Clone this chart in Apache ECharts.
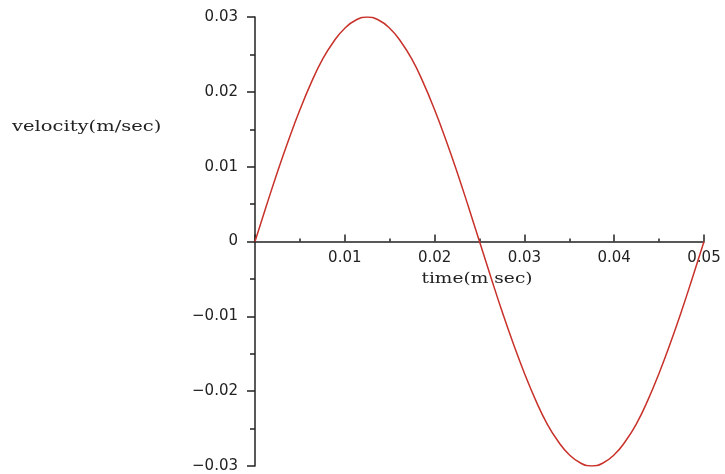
<!DOCTYPE html>
<html>
<head>
<meta charset="utf-8">
<script src="https://cdn.jsdelivr.net/npm/echarts@6/dist/echarts.min.js"></script>
<style>html,body{margin:0;padding:0;background:#fff;}#c{width:725px;height:474px;}</style>
</head>
<body>
<div id="c"></div>
<script>
// time (sec) samples
var timeValues = [0,0.00125,0.0025,0.00375,0.005,0.00625,0.0075,0.00875,0.01,0.01125,0.0125,0.01375,0.015,0.01625,0.0175,0.01875,0.02,0.02125,0.0225,0.02375,0.025,0.02625,0.0275,0.02875,0.03,0.03125,0.0325,0.03375,0.035,0.03625,0.0375,0.03875,0.04,0.04125,0.0425,0.04375,0.045,0.04625,0.0475,0.04875,0.05];
// velocity (m/sec)
var velocityValues = [0,0.0047,0.0093,0.0136,0.0176,0.0212,0.0243,0.0267,0.0285,0.0296,0.03,0.0296,0.0285,0.0267,0.0243,0.0212,0.0176,0.0136,0.0093,0.0047,0,-0.0047,-0.0093,-0.0136,-0.0176,-0.0212,-0.0243,-0.0267,-0.0285,-0.0296,-0.03,-0.0296,-0.0285,-0.0267,-0.0243,-0.0212,-0.0176,-0.0136,-0.0093,-0.0047,0];
var xTickLabels = ['0.01','0.02','0.03','0.04','0.05'];
var yTickLabels = ['\u22120.03','\u22120.02','\u22120.01','0','0.01','0.02','0.03'];
var xAxisTitle = 'time(m sec)';
var yAxisTitle = 'velocity(m/sec)';

var pts = timeValues.map(function(t,i){return [t, velocityValues[i]];});
var chart = echarts.init(document.getElementById('c'), null, {renderer:'canvas'});
var axisColor = '#222';
var labelFont = {fontFamily:'DejaVu Sans', fontSize:15, color:'#222'};
var gridTop = 17, gridBottom = 8, H = 474;
var zeroOffset = -(H - gridTop - gridBottom) / 2;
chart.setOption({
  animation:false,
  backgroundColor:'#fff',
  grid:{left:255, right:21, top:gridTop, bottom:gridBottom, containLabel:false, outerBoundsMode:'none'},
  xAxis:{
    type:'value', min:0, max:0.05, interval:0.01,
    offset:zeroOffset,
    axisLine:{onZero:false, lineStyle:{color:axisColor, width:1.5}},
    axisTick:{show:true, inside:true, length:7, lineStyle:{color:axisColor, width:1.5}},
    minorTick:{show:true, splitNumber:2, length:3, lineStyle:{color:axisColor, width:1.5}},
    splitLine:{show:false},
    axisLabel:Object.assign({margin:9, showMinLabel:false, formatter:function(v){
      var idx = Math.round(v/0.01)-1; return idx>=0 ? xTickLabels[idx] : '';
    }}, labelFont)
  },
  yAxis:{
    type:'value', min:-0.03, max:0.03, interval:0.01,
    axisLine:{onZero:false, lineStyle:{color:axisColor, width:1.5}},
    axisTick:{show:true, inside:false, length:8, lineStyle:{color:axisColor, width:1.5}},
    minorTick:{show:true, splitNumber:2, length:5, lineStyle:{color:axisColor, width:1.5}},
    splitLine:{show:false},
    axisLabel:Object.assign({margin:17, formatter:function(v){
      var idx = Math.round(v/0.01)+3; return yTickLabels[idx];
    }}, labelFont)
  },
  graphic:[{
    type:'text', x:12, y:127, scaleX:1.3,
    style:{text:yAxisTitle, font:'15px "DejaVu Serif"', fill:'#222', align:'left', verticalAlign:'middle'}
  },{
    type:'text', x:477, y:279, scaleX:1.24,
    style:{text:xAxisTitle, font:'15px "DejaVu Serif"', fill:'#222', align:'center', verticalAlign:'middle'}
  }],
  series:[{
    type:'line', data:pts, smooth:true, showSymbol:false,
    lineStyle:{color:'#c8312a', width:1.5}
  }]
});
</script>
</body>
</html>
